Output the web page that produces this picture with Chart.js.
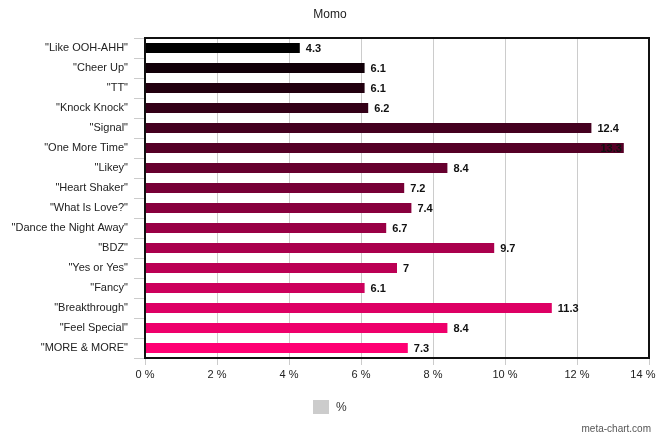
<!DOCTYPE html>
<html>
<head>
<meta charset="utf-8">
<script src="https://cdn.jsdelivr.net/npm/chart.js@4/dist/chart.umd.min.js"></script>
<style>
html,body{margin:0;padding:0;background:#fff;}
#wrap{width:660px;height:440px;position:relative;}
</style>
</head>
<body>
<div id="wrap"><canvas id="c" width="660" height="440"></canvas></div>
<script>
const chartTitle = "Momo";
const seriesName = "%";
const categories = ["\"Like OOH-AHH\"", "\"Cheer Up\"", "\"TT\"", "\"Knock Knock\"", "\"Signal\"", "\"One More Time\"", "\"Likey\"", "\"Heart Shaker\"", "\"What Is Love?\"", "\"Dance the Night Away\"", "\"BDZ\"", "\"Yes or Yes\"", "\"Fancy\"", "\"Breakthrough\"", "\"Feel Special\"", "\"MORE & MORE\""];
const values = [4.3, 6.1, 6.1, 6.2, 12.4, 13.3, 8.4, 7.2, 7.4, 6.7, 9.7, 7, 6.1, 11.3, 8.4, 7.3];
const barColors = ["#000000", "#110008", "#22000f", "#330017", "#44001f", "#550026", "#66002e", "#770036", "#88003d", "#990045", "#aa004d", "#bb0054", "#cc005c", "#dd0064", "#ee006b", "#ff0073"];
const xMin = 0, xMax = 14, xStep = 2;

const FONT = "'Liberation Sans', Arial, sans-serif";

const decor = {
  id: 'decor',
  afterDatasetsDraw(chart) {
    const ctx = chart.ctx;
    const a = chart.chartArea;
    const meta = chart.getDatasetMeta(0);
    ctx.save();
    ctx.font = "bold 11px " + FONT;
    ctx.fillStyle = "#111";
    ctx.textBaseline = "middle";
    meta.data.forEach((bar, i) => {
      const txt = String(values[i]);
      const w = ctx.measureText(txt).width;
      let x = bar.x + 6;
      if (x + w > a.right - 2) {
        ctx.textAlign = "right";
        x = bar.x - 2;
      } else {
        ctx.textAlign = "left";
      }
      ctx.fillText(txt, x, bar.y + 1);
    });
    ctx.strokeStyle = "#111";
    ctx.lineWidth = 2;
    ctx.strokeRect(a.left, a.top, a.right - a.left, a.bottom - a.top);
    ctx.restore();
  },
  afterDraw(chart) {
    const ctx = chart.ctx;
    ctx.save();
    ctx.font = "12px " + FONT;
    ctx.fillStyle = "#222";
    ctx.textAlign = "center";
    ctx.textBaseline = "middle";
    ctx.fillText(chartTitle, 330, 15);
    ctx.fillStyle = "#cccccc";
    ctx.fillRect(313, 400, 16, 14);
    ctx.fillStyle = "#333";
    ctx.textAlign = "left";
    ctx.font = "12px " + FONT;
    ctx.fillText(seriesName, 336, 408);
    ctx.font = "10px " + FONT;
    ctx.fillStyle = "#555";
    ctx.textAlign = "right";
    ctx.fillText("meta-chart.com", 651, 429);
    ctx.restore();
  }
};

new Chart(document.getElementById('c'), {
  type: 'bar',
  data: {
    labels: categories,
    datasets: [{
      label: seriesName,
      data: values,
      backgroundColor: barColors,
      borderWidth: 0,
      barPercentage: 0.5,
      categoryPercentage: 1.0
    }]
  },
  options: {
    indexAxis: 'y',
    responsive: false,
    animation: false,
    devicePixelRatio: 1,
    layout: { padding: { top: 38, right: 11, left: 0, bottom: 0 } },
    plugins: {
      legend: { display: false },
      title: { display: false },
      tooltip: { enabled: false }
    },
    scales: {
      x: {
        min: xMin, max: xMax,
        ticks: {
          stepSize: xStep,
          callback: v => v + " %" + (v === xMax ? "    " : ""),
          font: { family: FONT, size: 11 },
          color: "#222",
          padding: 3,
          maxRotation: 0
        },
        grid: { color: "#cccccc", lineWidth: 1, tickLength: 7, drawOnChartArea: true },
        border: { display: false },
        afterFit(scale) { scale.height = 82; scale.paddingLeft = 0; scale.paddingRight = 0; }
      },
      y: {
        ticks: {
          font: { family: FONT, size: 11 },
          color: "#222",
          padding: 6,
          autoSkip: false
        },
        grid: { color: "#cccccc", offset: true, drawOnChartArea: false, tickLength: 11 },
        border: { display: false },
        afterFit(scale) { scale.width = 145; scale.paddingTop = 0; scale.paddingBottom = 0; }
      }
    }
  },
  plugins: [decor]
});
</script>
</body>
</html>
